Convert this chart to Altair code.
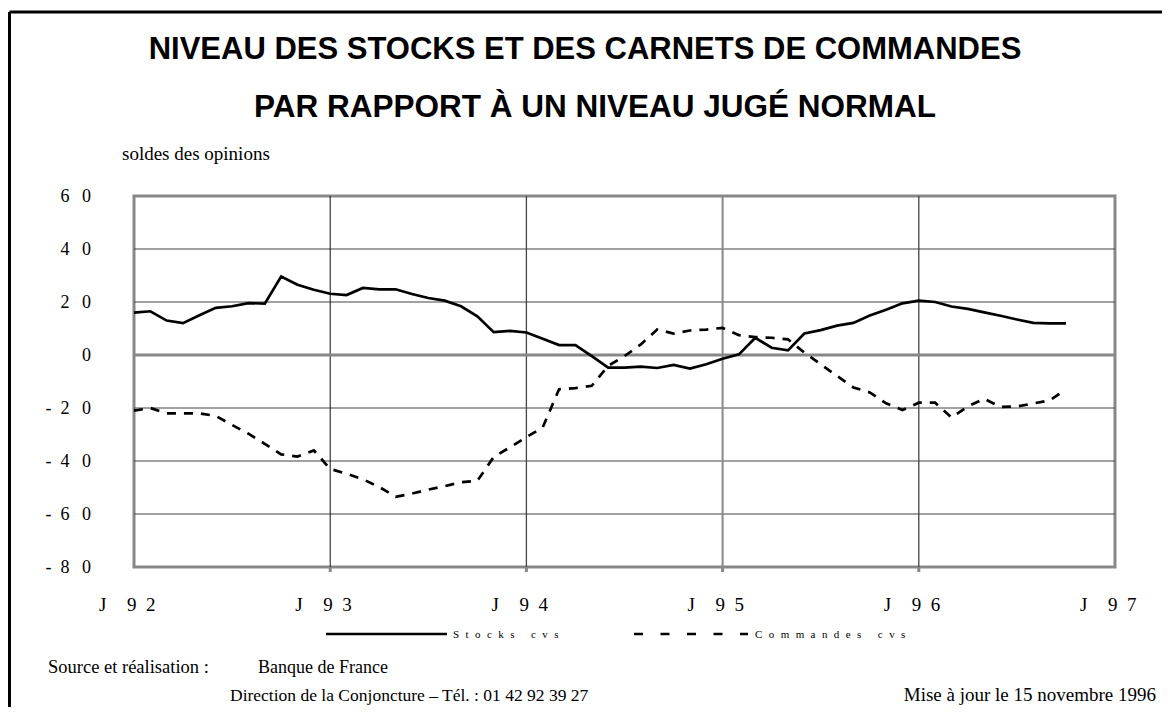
import altair as alt
import pandas as pd

# ---- data ----
months = list(range(58))  # 0 = Jan 1992 ... 57 = Oct 1996
stocks = [16, 16.5, 13, 12, 15, 17.8, 18.4, 19.6, 19.4, 29.6, 26.5, 24.6,
          23.1, 22.6, 25.3, 24.8, 24.8, 23, 21.5, 20.5, 18.4, 14.6, 8.6, 9.1,
          8.5, 6.1, 3.75, 3.75, -0.4, -4.75, -4.75, -4.4, -4.9, -3.75, -5.1, -3.5,
          -1.4, 0.25, 6.5, 2.75, 1.75, 8.1, 9.4, 11.1, 12.1, 14.9, 17.1, 19.5,
          20.5, 20, 18.3, 17.4, 16.1, 14.8, 13.4, 12.1, 11.9, 11.9]
commandes = [-21, -20, -22, -22, -22, -23, -26.4, -29.7, -33.5, -37.5, -38.3, -36,
             -43, -44.8, -46.9, -49.8, -53.5, -52.3, -50.8, -49.5, -48, -47.5, -38.5, -34.8,
             -31, -27.3, -12.9, -12.5, -11.6, -4.1, -0.4, 4, 9.6, 8.1, 9.25, 9.6,
             10.25, 7.5, 6.75, 6.5, 5.9, 0.9, -3.5, -7.9, -12.25, -14.1, -18.25, -20.75,
             -18, -18, -23.6, -19.4, -16.5, -19.6, -19.4, -18.3, -17.1, -13]

y_ticks = [60, 40, 20, 0, -20, -40, -60, -80]
y_tick_labels = ["6 0", "4 0", "2 0", "0", "- 2 0", "- 4 0", "- 6 0", "- 8 0"]
x_ticks = [0, 12, 24, 36, 48, 60]
x_tick_labels = ["J 9 2", "J 9 3", "J 9 4", "J 9 5", "J 9 6", "J 9 7"]
y_grid = [40, 20, -20, -40, -60]
x_grid = [12, 24, 36, 48]
x_grid_color = ["#111", "#444", "#888", "#444"]
x_grid_width = [1, 1.3, 2, 1.3]

title_lines = ["NIVEAU DES STOCKS ET DES CARNETS DE COMMANDES",
               "PAR RAPPORT À UN NIVEAU JUGÉ NORMAL"]
unit_label = "soldes des opinions"
legend_labels = ["Stocks cvs", "Commandes cvs"]
source_label = "Source et réalisation :"
source_name = "Banque de France"
direction_label = "Direction de la Conjoncture – Tél. : 01 42 92 39 27"
update_label = "Mise à jour le 15 novembre 1996"

# ---- layout ----
W, H = 981, 371
SERIF = "Liberation Serif"
SANS = "Liberation Sans"

xscale = alt.Scale(domain=[0, 60], nice=False, zero=False)
yscale = alt.Scale(domain=[-80, 60], nice=False, zero=False)

EN = "\u2002"
THIN = "\u2009"
EM = "\u2003"
HAIR = "\u200a"


def spaced_y(s):
    if s.startswith("- "):
        return "-" + EN + s[2:].replace(" ", EN + THIN)
    return s.replace(" ", EN + THIN)


def spaced_x(s):
    parts = s.split(" ")
    return parts[0] + EM + HAIR + EN.join(parts[1:])


def spaced_legend(s):
    words = s.split(" ")
    return (EM + EN).join((EN + HAIR).join(list(w)) for w in words)


df_s = pd.DataFrame({"month": months, "value": stocks})
df_c = pd.DataFrame({"month": months, "value": commandes})
df_yt = pd.DataFrame({"value": y_ticks, "label": [spaced_y(s) for s in y_tick_labels]})
df_xt = pd.DataFrame({"month": x_ticks, "label": [spaced_x(s) for s in x_tick_labels]})
df_yg = pd.DataFrame({"value": y_grid})
df_xg = pd.DataFrame({"month": x_grid, "c": x_grid_color, "w": x_grid_width})
df_tick = pd.DataFrame({"month": x_ticks[1:-1]})
one = pd.DataFrame({"a": [0]})

X = alt.X("month:Q", scale=xscale, axis=None)
Y = alt.Y("value:Q", scale=yscale, axis=None)

ygrid = alt.Chart(df_yg).mark_rule(color="#444", strokeWidth=1.2).encode(y=Y)
xgrid = alt.Chart(df_xg).mark_rule().encode(
    x=X, color=alt.Color("c:N", scale=None), strokeWidth=alt.StrokeWidth("w:Q", scale=None))
xticks = alt.Chart(df_tick).mark_rule(color="#888", strokeWidth=3).encode(
    x=X, y=alt.value(H), y2=alt.value(H + 5))
zero_rule = alt.Chart(pd.DataFrame({"value": [0]})).mark_rule(
    color="#888", strokeWidth=3).encode(y=Y)

stocks_line = alt.Chart(df_s).mark_line(color="black", strokeWidth=2.7).encode(x=X, y=Y)
cmd_line = alt.Chart(df_c).mark_line(color="black", strokeWidth=2.7,
                                     strokeDash=[9, 8]).encode(x=X, y=Y)

ylab = alt.Chart(df_yt).mark_text(font=SERIF, fontSize=18, align="right",
                                  baseline="middle", color="black", dy=1).encode(
    x=alt.value(-43), y=Y, text="label:N")

xlab = alt.Chart(df_xt).mark_text(font=SERIF, fontSize=19, align="left",
                                  baseline="alphabetic", color="black", dx=-35).encode(
    x=X, y=alt.value(H + 44), text="label:N")


def txt(s, x, y, size, font=SERIF, bold=False, align="left"):
    return alt.Chart(one).mark_text(text=s, font=font, fontSize=size,
                                    fontWeight="bold" if bold else "normal",
                                    align=align, baseline="alphabetic",
                                    color="black").encode(x=alt.value(x), y=alt.value(y))


def rule(x1, x2, y1, y2, width, dash=None, color="black"):
    kw = {}
    if dash:
        kw["strokeDash"] = dash
    return alt.Chart(one).mark_rule(color=color, strokeWidth=width, **kw).encode(
        x=alt.value(x1), x2=alt.value(x2), y=alt.value(y1), y2=alt.value(y2))


ox, oy = 134, 196  # page position of plot origin

layers = [
    ygrid, xgrid, xticks, zero_rule, stocks_line, cmd_line, ylab, xlab,
    # outer frame (top & left)
    rule(9.5 - ox, 1170 - ox, 12 - oy, 12 - oy, 3),
    rule(9.5 - ox, 9.5 - ox, 12 - oy, 715 - oy, 3),
    # titles
    txt(title_lines[0], 585 - ox, 59 - oy, 31, font=SANS, bold=True, align="center"),
    txt(title_lines[1], 595 - ox, 117 - oy, 31.5, font=SANS, bold=True, align="center"),
    txt(unit_label, 122 - ox, 160 - oy, 19),
    # legend
    rule(326 - ox, 447 - ox, 634 - oy, 634 - oy, 2.7),
    txt(spaced_legend(legend_labels[0]), 453 - ox, 638 - oy, 11),
    rule(634 - ox, 748 - ox, 634 - oy, 634 - oy, 2.7, dash=[9, 17.5]),
    txt(spaced_legend(legend_labels[1]), 755 - ox, 638 - oy, 11),
    # footer
    txt(source_label, 48 - ox, 673 - oy, 18.5),
    txt(source_name, 258 - ox, 673 - oy, 18),
    txt(direction_label, 230 - ox, 701 - oy, 17.5),
    txt(update_label, 1156 - ox, 701 - oy, 19, align="right"),
]

chart = alt.layer(*layers).properties(
    width=W, height=H,
    padding={"left": ox - 8, "top": oy - 8, "right": 1154 - (ox - 8) - W,
             "bottom": 699 - (oy - 8) - H},
    autosize=alt.AutoSizeParams(type="none"),
    background="white",
).configure_view(stroke="#888", strokeWidth=3)

chart.save("out.html", embed_options={"renderer": "svg", "actions": False})
